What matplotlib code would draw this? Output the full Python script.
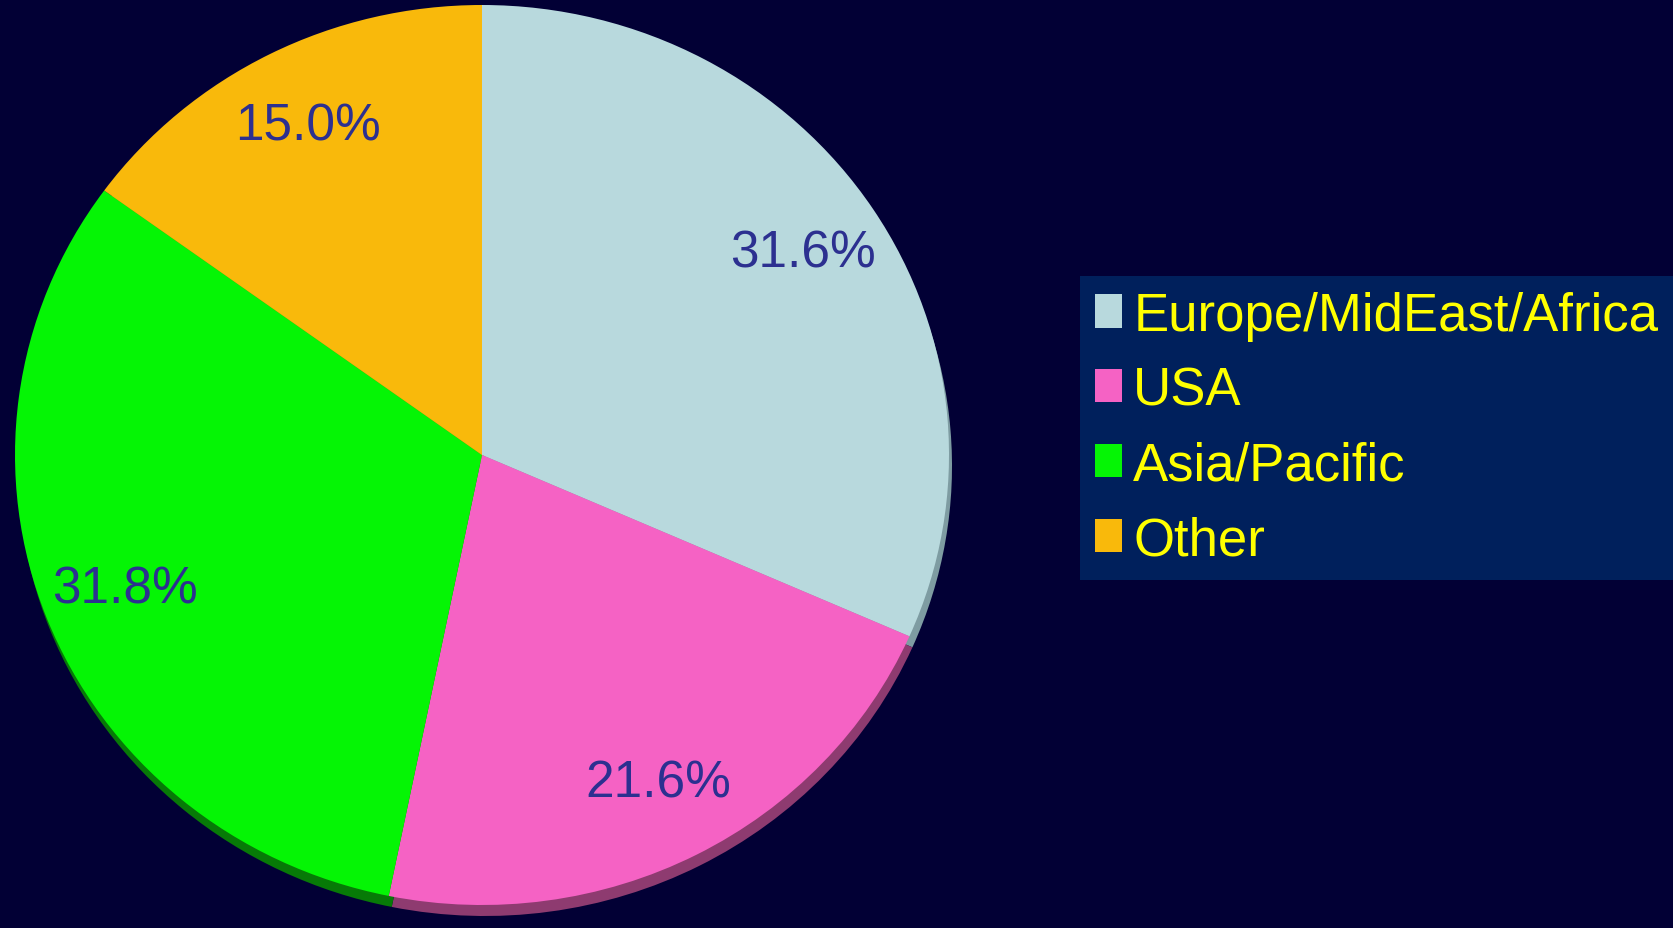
import matplotlib
matplotlib.use("Agg")
import matplotlib.pyplot as plt

categories = ["Europe/MidEast/Africa", "USA", "Asia/Pacific", "Other"]
shares = [31.6, 21.6, 31.8, 15.0]
colors = ["#B8D9DD", "#F562C4", "#05F505", "#F9B90B"]
side_colors = ["#7E9CA2", "#8E3B70", "#077A07", "#A07808"]

W, H = 1673, 929
plt.rcParams['font.family'] = ['Liberation Sans', 'DejaVu Sans']

fig = plt.figure(figsize=(W / 100, H / 100), dpi=100)
bg = "#020035"
fig.patch.set_facecolor(bg)
ax = fig.add_axes([0, 0, 1, 1])
ax.set_facecolor(bg)

HY = H * 467 / 450

def py(p):
    return (H - p) * HY / H

cx, cy, r = 482, py(456), 467
depth = 11 * HY / H

ax.pie(shares, colors=side_colors, startangle=90, counterclock=False,
       center=(cx + 3, cy - depth), radius=r, frame=True,
       wedgeprops=dict(linewidth=0))
wedges, texts, autotexts = ax.pie(
    shares, colors=colors, startangle=90, counterclock=False,
    center=(cx, cy), radius=r, frame=True,
    autopct='%1.1f%%', pctdistance=0.82,
    wedgeprops=dict(linewidth=0),
    textprops=dict(color="#2C3090", fontsize=37))
ax.set_xlim(0, W)
ax.set_ylim(0, HY)
ax.set_aspect('auto')
ax.axis('off')

x0 = 1080 / W
leg = ax.legend(wedges, categories, loc='upper left', mode='expand',
                bbox_to_anchor=(x0, 1 - 277 / H, 1 - x0, 0.0001),
                bbox_transform=fig.transFigure, borderaxespad=0,
                prop=dict(family='Liberation Sans', size=38),
                frameon=True, fancybox=False,
                handlelength=0.51, handleheight=0.59, handletextpad=0.22,
                borderpad=0.28, labelspacing=0.47)
frame = leg.get_frame()
frame.set_facecolor("#00205C")
frame.set_edgecolor("none")
frame.set_alpha(1)
for t in leg.get_texts():
    t.set_color("#FFFF00")

fig.savefig("out.png", dpi=100, facecolor=bg)
